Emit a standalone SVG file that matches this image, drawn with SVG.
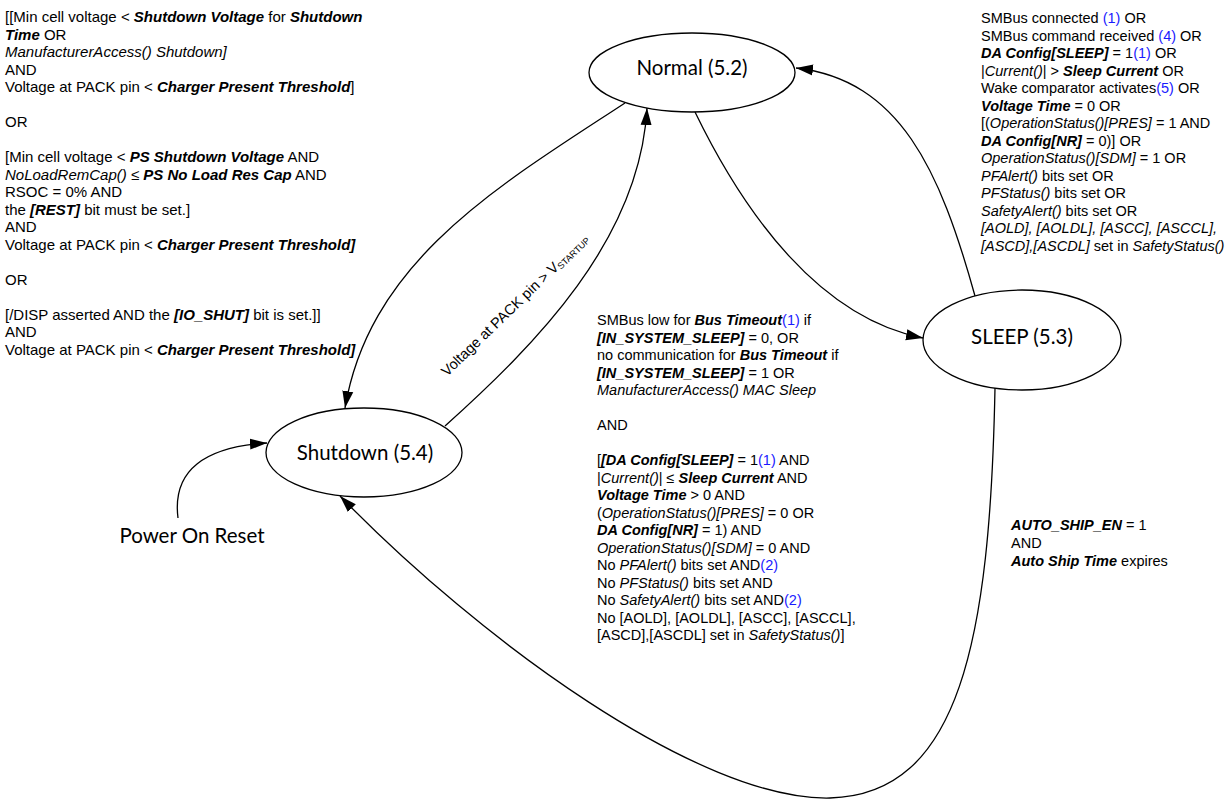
<svg xmlns="http://www.w3.org/2000/svg" width="1230" height="801" viewBox="0 0 1230 801">
<style>
.t{font-family:"Liberation Sans",Arial,sans-serif;font-size:14.5px;fill:#000}
.l{font-size:15px}
.b{font-weight:bold;font-style:italic}
.i{font-style:italic}
.r{fill:#1a1aff}
.n{font-family:Lato,"Open Sans",sans-serif;font-size:20.5px;fill:#000}
.e{fill:#fff;stroke:#000;stroke-width:1.3}
.c{fill:none;stroke:#000;stroke-width:1.3}
</style>
<defs>
<marker id="ah" markerWidth="18" markerHeight="12" refX="17" refY="6" orient="auto" markerUnits="userSpaceOnUse"><path d="M0,0.5 L17,6 L0,11.5 z" fill="#000"/></marker>
</defs>
<g id="connectors">
<path class="c" d="M625,103 C500,185 370,260 345,408" marker-end="url(#ah)"/>
<path class="c" d="M445,426 C535,345 640,240 647,108" marker-end="url(#ah)"/>
<path class="c" d="M695,112 C745,215 820,318 923,338" marker-end="url(#ah)"/>
<path class="c" d="M975,296 C940,170 900,80 796,68" marker-end="url(#ah)"/>
<path class="c" d="M995,388 C990,640 960,795 830,798 C700,801 480,640 340,496" marker-end="url(#ah)"/>
<path class="c" d="M178,518 C172,470 205,447 267,443" marker-end="url(#ah)"/>
<text class="t" transform="translate(447,377) rotate(-44)">Voltage at PACK pin &gt; V<tspan font-size="9" dy="2">STARTUP</tspan></text>
</g>
<g id="normal">
<ellipse class="e" cx="692" cy="72.5" rx="103" ry="39.5"/>
<text class="n" x="692" y="75" text-anchor="middle">Normal (5.2)</text>
</g>
<g id="sleep">
<ellipse class="e" cx="1022" cy="340" rx="99" ry="50"/>
<text class="n" x="1022" y="344" text-anchor="middle">SLEEP (5.3)</text>
</g>
<g id="shutdown">
<ellipse class="e" cx="364" cy="452.5" rx="98" ry="44.5"/>
<text class="n" x="365" y="460" text-anchor="middle">Shutdown (5.4)</text>
</g>
<g id="power-on-reset">
<text class="n" x="192" y="543" text-anchor="middle">Power On Reset</text>
</g>
<g id="shutdown-conditions">
<text class="t l" x="5" y="22">[[Min cell voltage &lt; <tspan class="b">Shutdown Voltage</tspan> for <tspan class="b">Shutdown</tspan></text>
<text class="t l" x="5" y="39.5"><tspan class="b">Time</tspan> OR</text>
<text class="t l" x="5" y="57"><tspan class="i">ManufacturerAccess() Shutdown]</tspan></text>
<text class="t l" x="5" y="74.5">AND</text>
<text class="t l" x="5" y="92">Voltage at PACK pin &lt; <tspan class="b">Charger Present Threshold</tspan>]</text>
<text class="t l" x="5" y="127">OR</text>
<text class="t l" x="5" y="162">[Min cell voltage &lt; <tspan class="b">PS Shutdown Voltage</tspan> AND</text>
<text class="t l" x="5" y="179.5"><tspan class="i">NoLoadRemCap()</tspan> ≤ <tspan class="b">PS No Load Res Cap</tspan> AND</text>
<text class="t l" x="5" y="197">RSOC = 0% AND</text>
<text class="t l" x="5" y="214.5">the <tspan class="b">[REST]</tspan> bit must be set.]</text>
<text class="t l" x="5" y="232">AND</text>
<text class="t l" x="5" y="249.5">Voltage at PACK pin &lt; <tspan class="b">Charger Present Threshold]</tspan></text>
<text class="t l" x="5" y="284.5">OR</text>
<text class="t l" x="5" y="319.5">[/DISP asserted AND the <tspan class="b">[IO_SHUT]</tspan> bit is set.]]</text>
<text class="t l" x="5" y="337">AND</text>
<text class="t l" x="5" y="354.5">Voltage at PACK pin &lt; <tspan class="b">Charger Present Threshold]</tspan></text>
</g>
<g id="wake-conditions">
<text class="t" x="981" y="23">SMBus connected <tspan class="r">(1)</tspan> OR</text>
<text class="t" x="981" y="40.5">SMBus command received <tspan class="r">(4)</tspan> OR</text>
<text class="t" x="981" y="58"><tspan class="b">DA Config[SLEEP]</tspan> = 1<tspan class="r">(1)</tspan> OR</text>
<text class="t" x="981" y="75.5">|<tspan class="i">Current()</tspan>| &gt; <tspan class="b">Sleep Current</tspan> OR</text>
<text class="t" x="981" y="93">Wake comparator activates<tspan class="r">(5)</tspan> OR</text>
<text class="t" x="981" y="110.5"><tspan class="b">Voltage Time</tspan> = 0 OR</text>
<text class="t" x="981" y="128">[(<tspan class="i">OperationStatus()[PRES]</tspan> = 1 AND</text>
<text class="t" x="981" y="145.5"><tspan class="b">DA Config[NR]</tspan> = 0)] OR</text>
<text class="t" x="981" y="163"><tspan class="i">OperationStatus()[SDM]</tspan> = 1 OR</text>
<text class="t" x="981" y="180.5"><tspan class="i">PFAlert()</tspan> bits set OR</text>
<text class="t" x="981" y="198"><tspan class="i">PFStatus()</tspan> bits set OR</text>
<text class="t" x="981" y="215.5"><tspan class="i">SafetyAlert()</tspan> bits set OR</text>
<text class="t" x="981" y="233"><tspan class="i">[AOLD], [AOLDL], [ASCC], [ASCCL],</tspan></text>
<text class="t" x="981" y="250.5"><tspan class="i">[ASCD],[ASCDL]</tspan> set in <tspan class="i">SafetyStatus()</tspan></text>
</g>
<g id="sleep-conditions">
<text class="t" x="597" y="325">SMBus low for <tspan class="b">Bus Timeout</tspan><tspan class="r">(1)</tspan> if</text>
<text class="t" x="597" y="342.5"><tspan class="b">[IN_SYSTEM_SLEEP]</tspan> = 0, OR</text>
<text class="t" x="597" y="360">no communication for <tspan class="b">Bus Timeout</tspan> if</text>
<text class="t" x="597" y="377.5"><tspan class="b">[IN_SYSTEM_SLEEP]</tspan> = 1 OR</text>
<text class="t" x="597" y="395"><tspan class="i">ManufacturerAccess() MAC Sleep</tspan></text>
<text class="t" x="597" y="430">AND</text>
<text class="t" x="597" y="465">[<tspan class="b">[DA Config[SLEEP]</tspan> = 1<tspan class="r">(1)</tspan> AND</text>
<text class="t" x="597" y="482.5">|<tspan class="i">Current()</tspan>| ≤ <tspan class="b">Sleep Current</tspan> AND</text>
<text class="t" x="597" y="500"><tspan class="b">Voltage Time</tspan> &gt; 0 AND</text>
<text class="t" x="597" y="517.5">(<tspan class="i">OperationStatus()[PRES]</tspan> = 0 OR</text>
<text class="t" x="597" y="535"><tspan class="b">DA Config[NR]</tspan> = 1) AND</text>
<text class="t" x="597" y="552.5"><tspan class="i">OperationStatus()[SDM]</tspan> = 0 AND</text>
<text class="t" x="597" y="570">No <tspan class="i">PFAlert()</tspan> bits set AND<tspan class="r">(2)</tspan></text>
<text class="t" x="597" y="587.5">No <tspan class="i">PFStatus()</tspan> bits set AND</text>
<text class="t" x="597" y="605">No <tspan class="i">SafetyAlert()</tspan> bits set AND<tspan class="r">(2)</tspan></text>
<text class="t" x="597" y="622.5">No [AOLD], [AOLDL], [ASCC], [ASCCL],</text>
<text class="t" x="597" y="640">[ASCD],[ASCDL] set in <tspan class="i">SafetyStatus()</tspan>]</text>
</g>
<g id="auto-ship-conditions">
<text class="t" x="1011" y="530"><tspan class="b">AUTO_SHIP_EN</tspan> = 1</text>
<text class="t" x="1011" y="548">AND</text>
<text class="t" x="1011" y="566"><tspan class="b">Auto Ship Time</tspan> expires</text>
</g>
</svg>
